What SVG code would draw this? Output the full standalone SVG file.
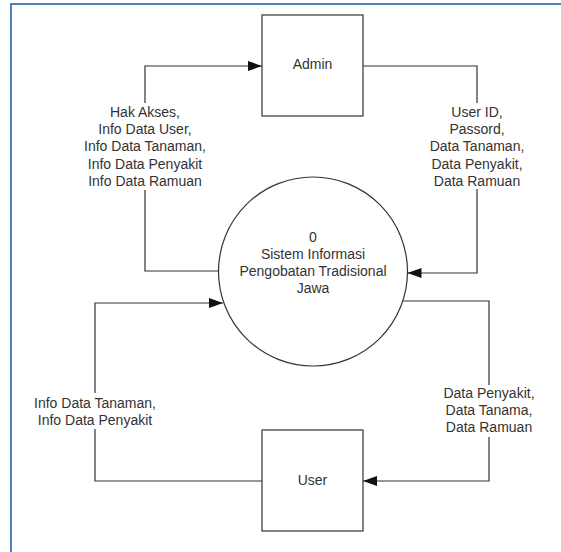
<svg xmlns="http://www.w3.org/2000/svg" width="561" height="552" viewBox="0 0 561 552">
<style>
.t{font-family:"Liberation Sans",Arial,sans-serif;font-size:14px;fill:#333;text-anchor:middle}
.n{fill:#fff;stroke:#333;stroke-width:1.2}
.c{fill:none;stroke:#333;stroke-width:1.2}
</style>
<defs>
<marker id="ah" viewBox="0 0 14 10" refX="14" refY="5" markerWidth="14" markerHeight="10" markerUnits="userSpaceOnUse" orient="auto">
<path d="M0,0 L14,5 L0,10 Z" fill="#111"/>
</marker>
</defs>
<rect width="561" height="552" fill="#fff"/>
<path d="M11,552 V4 H561" fill="none" stroke="#4F81BD" stroke-width="2"/>
<g id="connectors">
<path class="c" d="M218.5,271 H145 V190"/>
<path class="c" d="M145,103 V66 H262" marker-end="url(#ah)"/>
<path class="c" d="M363,66 H477 V103"/>
<path class="c" d="M477,189 V273 H407.5" marker-end="url(#ah)"/>
<path class="c" d="M262,481 H95 V429"/>
<path class="c" d="M95,393 V303 H223" marker-end="url(#ah)"/>
<path class="c" d="M403,301 H489 V385"/>
<path class="c" d="M489,437 V481 H363" marker-end="url(#ah)"/>
<text class="t" x="145" y="117">Hak Akses,</text>
<text class="t" x="145" y="134.2">Info Data User,</text>
<text class="t" x="145" y="151.4">Info Data Tanaman,</text>
<text class="t" x="145" y="168.6">Info Data Penyakit</text>
<text class="t" x="145" y="185.8">Info Data Ramuan</text>
<text class="t" x="477" y="117">User ID,</text>
<text class="t" x="477" y="134.2">Passord,</text>
<text class="t" x="477" y="151.4">Data Tanaman,</text>
<text class="t" x="477" y="168.6">Data Penyakit,</text>
<text class="t" x="477" y="185.8">Data Ramuan</text>
<text class="t" x="95" y="408">Info Data Tanaman,</text>
<text class="t" x="95" y="425">Info Data Penyakit</text>
<text class="t" x="489" y="398">Data Penyakit,</text>
<text class="t" x="489" y="415">Data Tanama,</text>
<text class="t" x="489" y="432">Data Ramuan</text>
</g>
<g id="admin">
<rect class="n" x="262" y="15" width="101" height="101"/>
<text class="t" x="312.5" y="69">Admin</text>
</g>
<g id="process">
<circle class="n" cx="313" cy="271.5" r="94.5"/>
<text class="t" x="313" y="242">0</text>
<text class="t" x="313" y="259">Sistem Informasi</text>
<text class="t" x="313" y="276">Pengobatan Tradisional</text>
<text class="t" x="313" y="293">Jawa</text>
</g>
<g id="user">
<rect class="n" x="262" y="430" width="101" height="101"/>
<text class="t" x="312.5" y="485">User</text>
</g>
</svg>
